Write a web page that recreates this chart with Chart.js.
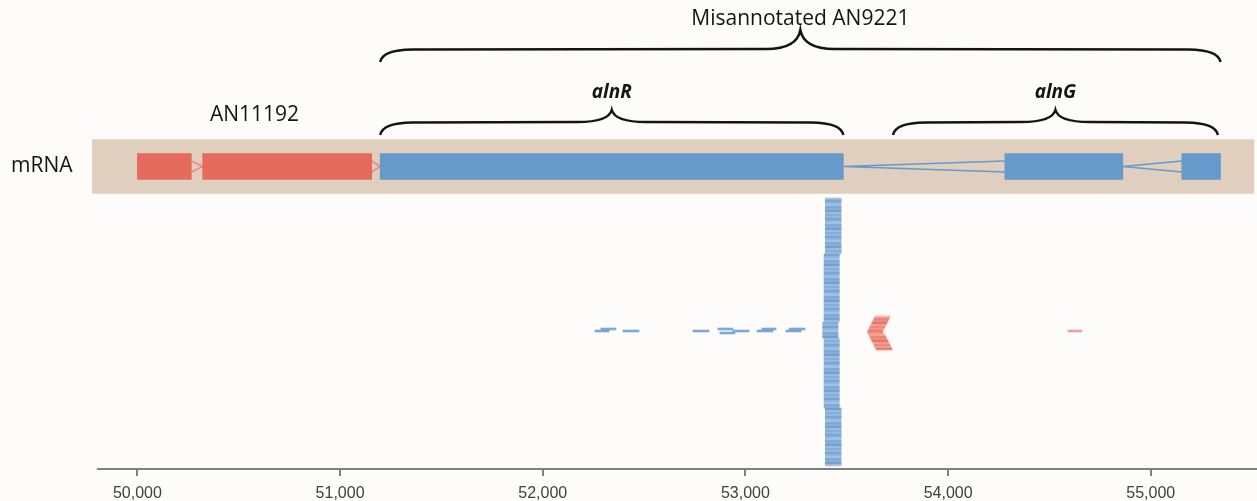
<!DOCTYPE html>
<html>
<head>
<meta charset="utf-8">
<script src="https://cdn.jsdelivr.net/npm/chart.js@4"></script>
<style>
    html, body { margin: 0; padding: 0; background: #fefcfb; }
    #wrap { width: 1257px; height: 501px; position: relative; }
</style>
</head>
<body>
<div id="wrap"><canvas id="chart"></canvas></div>
<script>
// Genome coordinates (bp)
const xTicks = [50000, 51000, 52000, 53000, 54000, 55000];

// mRNA track
const trackRow = -16.25;
const bandRange = [49778, 55509];
const redExonStart = [50000, 50322];
const redExonEnd = [50266, 51156];
const blueExonStart = [51198, 54280, 55153];
const blueExonEnd = [53483, 54862, 55344];

// Pileup column: groups of stacked reads with the same coordinates
const pileupStart = [53394, 53388, 53381, 53388, 53394];
const pileupEnd = [53472, 53463, 53457, 53463, 53472];
const pileupDepth = [28, 34, 8, 35, 29];

// Scattered blue reads
const blueReadStart = [52258, 52287, 52396, 52741, 52864, 52874, 52938, 53057, 53081, 53200, 53215];
const blueReadEnd = [52327, 52361, 52475, 52820, 52938, 52948, 53017, 53136, 53151, 53274, 53294];
const blueReadRow = [66, 65, 66, 66, 65, 67, 66, 66, 65, 66, 65];

// Red reads (chevron + single read)
const redReadStart = [53639, 53634, 53629, 53624, 53619, 53614, 53609, 53604, 53604, 53609, 53614, 53619, 53624, 53629, 53634, 53639, 53644, 54591];
const redReadEnd = [53713, 53708, 53703, 53698, 53693, 53688, 53683, 53678, 53678, 53688, 53693, 53698, 53703, 53708, 53713, 53718, 53723, 54660];
const redReadRow = [59, 60, 61, 62, 63, 64, 65, 66, 67, 68, 69, 70, 71, 72, 73, 74, 75, 66];

// Annotations
const braceLabels = ['Misannotated AN9221', 'alnR', 'alnG'];
const braceStart = [51198, 51198, 53728];
const braceEnd = [55344, 53483, 55331];

const RED = '#e56b5c';
const BLUE = '#669aca';

function toBars(starts, ends, rows) {
    return starts.map((s, i) => ({x: [s, ends[i]], y: Array.isArray(rows) ? rows[i] : rows}));
}

const pileupReads = [];
let row = 0;
pileupStart.forEach((s, i) => {
    for (let k = 0; k < pileupDepth[i]; k++) {
        pileupReads.push({x: [s, pileupEnd[i]], y: row});
        row++;
    }
});

// intron connectors: '>' for the red gene, '<' for the blue one
function intronLine(fromX, toX, vertexAtEnd) {
    const up = trackRow - 2.75;
    const down = trackRow + 2.75;
    if (vertexAtEnd) {
        return [{x: fromX, y: up}, {x: toX, y: trackRow}, {x: fromX, y: down}];
    }
    return [{x: toX, y: up}, {x: fromX, y: trackRow}, {x: toX, y: down}];
}

function lineDataset(data, color) {
    return {
        type: 'line',
        data: data,
        borderColor: color,
        borderWidth: 1.5,
        pointRadius: 0,
        fill: false,
        order: 5,
    };
}

const shades = [0.55, 0.8, 0.6, 0.45, 0.75, 0.65, 0.85, 0.5, 0.7];

const annotationPlugin = {
    id: 'annotations',
    afterDraw(chart) {
        const ctx = chart.ctx;
        const xs = chart.scales.x;
        ctx.save();

        // axis line
        ctx.strokeStyle = '#7f7f7f';
        ctx.lineWidth = 2;
        ctx.beginPath();
        ctx.moveTo(xs.getPixelForValue(49800), chart.chartArea.bottom);
        ctx.lineTo(chart.width, chart.chartArea.bottom);
        ctx.stroke();

        // braces
        const levels = [
            {tip: 62, line: 50, peak: 30, text: 19},
            {tip: 135, line: 123, peak: 110, text: 93},
            {tip: 135, line: 123, peak: 110, text: 93},
        ];
        ctx.strokeStyle = '#141414';
        ctx.lineWidth = 2.5;
        ctx.fillStyle = '#141414';
        ctx.textAlign = 'center';
        ctx.textBaseline = 'middle';
        braceLabels.forEach((label, i) => {
            const x0 = xs.getPixelForValue(braceStart[i]);
            const x1 = xs.getPixelForValue(braceEnd[i]);
            const lv = levels[i];
            drawBrace(ctx, x0, x1, lv.tip, lv.line, lv.peak);
            ctx.font = i === 0 ? '21px "Open Sans"' : 'italic bold 19px "Open Sans"';
            ctx.fillText(label, (x0 + x1) / 2, lv.text);
        });

        ctx.font = '21px "Open Sans"';
        ctx.fillText('AN11192', xs.getPixelForValue(50578), 115);
        ctx.textAlign = 'left';
        ctx.font = '21px "Open Sans"';
        ctx.fillText('mRNA', 11, 166);
        ctx.restore();
    },
};

function drawBrace(ctx, x0, x1, yTip, yLine, yPeak) {
    const mid = (x0 + x1) / 2;
    const r = 32;
    const c = 34;
    ctx.beginPath();
    ctx.moveTo(x0, yTip);
    ctx.bezierCurveTo(x0 + 2, yLine + 3, x0 + r * 0.4, yLine, x0 + r, yLine - 0.5);
    ctx.lineTo(mid - c, yLine - 1);
    ctx.bezierCurveTo(mid - c * 0.35, yLine - 1, mid - 2, yLine - (yLine - yPeak) * 0.45, mid, yPeak);
    ctx.bezierCurveTo(mid + 2, yLine - (yLine - yPeak) * 0.45, mid + c * 0.35, yLine - 1, mid + c, yLine - 1);
    ctx.lineTo(x1 - r, yLine - 0.5);
    ctx.bezierCurveTo(x1 - r * 0.4, yLine, x1 - 2, yLine + 3, x1, yTip);
    ctx.stroke();
}

new Chart(document.getElementById('chart'), {
    type: 'bar',
    data: {
        datasets: [
            {
                data: [{x: bandRange, y: trackRow}],
                backgroundColor: '#e0cebe',
                barThickness: 54,
                order: 10,
            },
            lineDataset(intronLine(redExonEnd[0], redExonStart[1], true), '#ec8a7e'),
            lineDataset(intronLine(redExonEnd[1], blueExonStart[0], true), '#ec8a7e'),
            lineDataset(intronLine(blueExonEnd[0], blueExonStart[1], false), BLUE),
            lineDataset(intronLine(blueExonEnd[1], blueExonStart[2], false), BLUE),
            {
                data: toBars(redExonStart, redExonEnd, trackRow),
                backgroundColor: RED,
                barThickness: 26,
                order: 4,
            },
            {
                data: toBars(blueExonStart, blueExonEnd, trackRow),
                backgroundColor: BLUE,
                barThickness: 26,
                order: 4,
            },
            {
                data: pileupReads,
                backgroundColor: (c) => `rgba(95,148,204,${shades[c.dataIndex % shades.length]})`,
                barThickness: 2,
                order: 3,
            },
            {
                data: toBars(blueReadStart, blueReadEnd, blueReadRow),
                backgroundColor: 'rgba(95,148,204,0.8)',
                barThickness: 2,
                order: 3,
            },
            {
                data: toBars(redReadStart, redReadEnd, redReadRow),
                backgroundColor: (c) => `rgba(232,100,84,${shades[(c.dataIndex + 3) % shades.length]})`,
                barThickness: 2,
                order: 3,
            },
        ],
    },
    options: {
        indexAxis: 'y',
        responsive: true,
        maintainAspectRatio: false,
        animation: false,
        datasets: {
            bar: {grouped: false},
        },
        layout: {
            padding: {left: 92, right: 0, top: 139, bottom: 0},
        },
        plugins: {
            legend: {display: false},
            tooltip: {enabled: false},
        },
        scales: {
            x: {
                type: 'linear',
                position: 'bottom',
                min: 49776,
                max: 55524,
                offset: false,
                afterBuildTicks: (scale) => {
                    scale.ticks = xTicks.map((v) => ({value: v}));
                },
                afterFit: (scale) => {
                    scale.height = 32;
                },
                border: {display: false},
                grid: {
                    drawOnChartArea: false,
                    drawTicks: true,
                    tickLength: 7,
                    color: '#7f7f7f',
                    lineWidth: 2,
                },
                ticks: {
                    padding: 8,
                    color: '#404040',
                    font: {family: '"Liberation Sans", Arial, sans-serif', size: 16},
                    maxRotation: 0,
                    callback: (v) => v.toLocaleString('en-US'),
                },
            },
            y: {
                type: 'linear',
                display: false,
                reverse: true,
                offset: false,
                min: -30,
                max: 135,
            },
        },
    },
    plugins: [annotationPlugin],
});
</script>
</body>
</html>
